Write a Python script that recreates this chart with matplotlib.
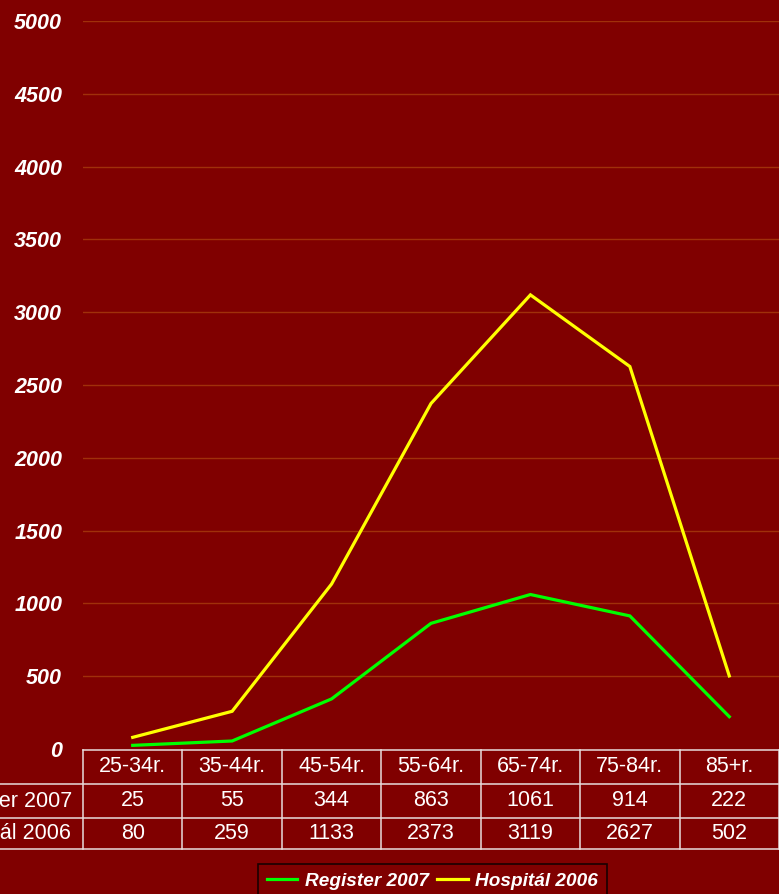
import matplotlib
matplotlib.use("Agg")
import matplotlib.pyplot as plt
from matplotlib.lines import Line2D
import matplotlib.transforms as mtransforms

categories = ["25-34r.", "35-44r.", "45-54r.", "55-64r.", "65-74r.", "75-84r.", "85+r."]
register_2007 = [25, 55, 344, 863, 1061, 914, 222]
hospital_2006 = [80, 259, 1133, 2373, 3119, 2627, 502]
series_names = ["Register 2007", "Hospitál 2006"]
yticks = [0, 500, 1000, 1500, 2000, 2500, 3000, 3500, 4000, 4500, 5000]

plt.rcParams['font.family'] = ['Liberation Sans', 'DejaVu Sans']

W, H = 779, 894
BG = '#800000'
fig = plt.figure(figsize=(W / 100, H / 100), dpi=100, facecolor=BG)

def fx(px):
    return px / W

def fy(py):
    return 1 - py / H

ax_left, ax_right, ax_top, ax_bottom = 83, 779, 21, 749
ax = fig.add_axes([fx(ax_left), fy(ax_bottom), fx(ax_right - ax_left), fy(ax_top) - fy(ax_bottom)])
ax.set_facecolor(BG)
for s in ax.spines.values():
    s.set_visible(False)

n = len(categories)
xs = [i + 0.5 for i in range(n)]
ax.plot(xs, register_2007, color='#00FF00', lw=2.3, solid_joinstyle='miter', label=series_names[0], zorder=3)
ax.plot(xs, hospital_2006, color='#FFFF00', lw=2.3, solid_joinstyle='miter', label=series_names[1], zorder=3)

ax.set_xlim(0, n)
ax.set_ylim(0, 5000)
ax.set_yticks(yticks)
ax.set_yticklabels([str(v) for v in yticks], color='white', fontsize=15.5,
                   fontweight='bold', fontstyle='italic')
ax.tick_params(axis='y', length=0, pad=15)
ax.set_xticks([])
for v in yticks[1:]:
    ax.axhline(v, color='#A0300A', lw=1.0, zorder=1)

# Data table
tcol = '#E8DCDC'
trans = mtransforms.blended_transform_factory(ax.transData, fig.transFigure)
row_tops = [750, 784, 818, 849]
fig.add_artist(Line2D([0, n], [fy(750)] * 2, transform=trans, color=tcol, lw=1.1))
for yy in row_tops[1:]:
    fig.add_artist(Line2D([fx(0), fx(W)], [fy(yy)] * 2, transform=fig.transFigure, color=tcol, lw=1.1))
for i in range(n + 1):
    fig.add_artist(Line2D([i, i], [fy(750), fy(849)], transform=trans, color=tcol, lw=1.1))

def row_center(r):
    return fy((row_tops[r] + row_tops[r + 1]) / 2)

for i, c in enumerate(categories):
    fig.text(xs[i], row_center(0), c, transform=trans, ha='center', va='center',
             color='white', fontsize=15.5)
for r, vals in enumerate([register_2007, hospital_2006]):
    for i, v in enumerate(vals):
        fig.text(xs[i], row_center(r + 1), str(v), transform=trans, ha='center', va='center',
                 color='white', fontsize=15.5)
    fig.text(fx(5), row_center(r + 1), series_names[r], ha='center', va='center',
             color='white', fontsize=15.5)

leg = fig.legend(loc='upper left', bbox_to_anchor=(fx(258), fy(864)), bbox_transform=fig.transFigure,
                 borderaxespad=0, ncol=2, frameon=True, fancybox=False, facecolor=BG, edgecolor='black',
                 borderpad=0.45, handlelength=1.6, handletextpad=0.4, columnspacing=0.45,
                 prop={'size': 13.7, 'weight': 'bold', 'style': 'italic'})
leg.get_frame().set_linewidth(1.2)
for t in leg.get_texts():
    t.set_color('white')

fig.savefig('out.png', dpi=100, facecolor=BG)
